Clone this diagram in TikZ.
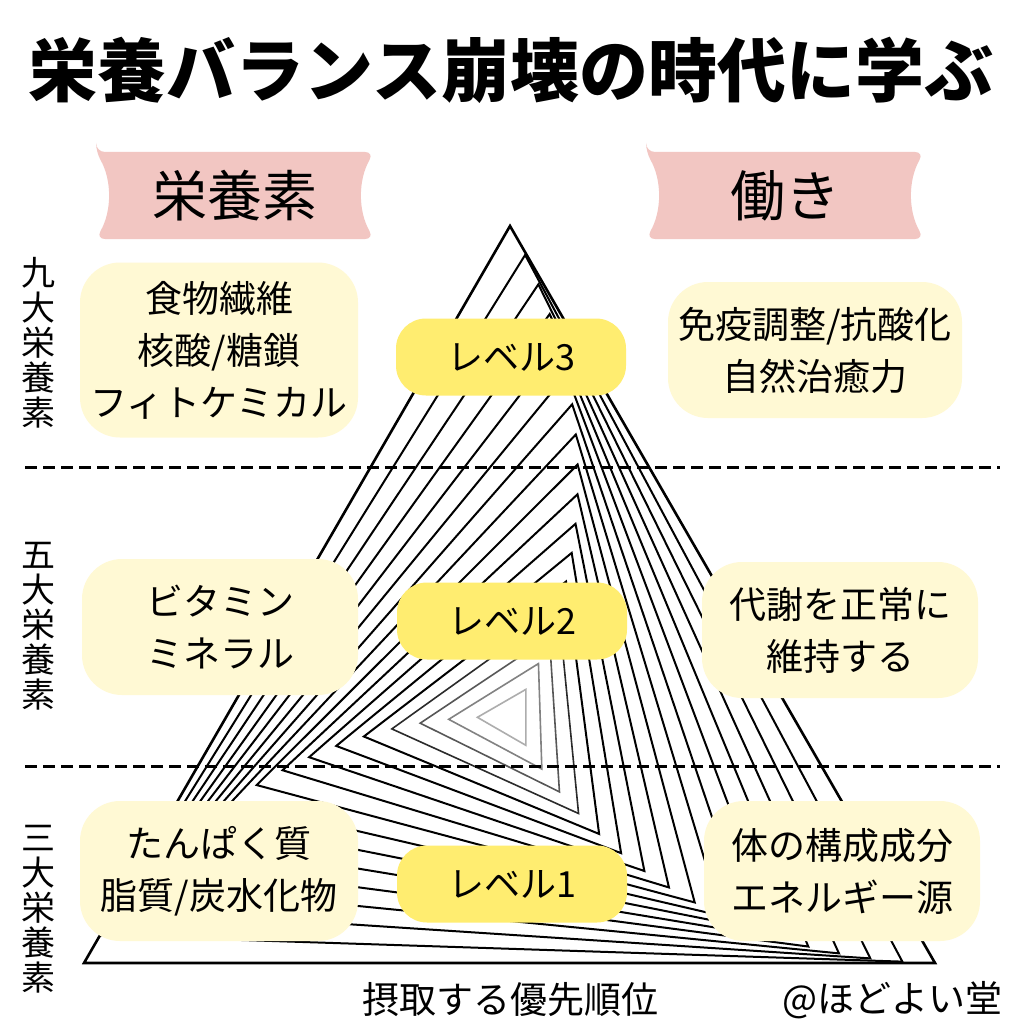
\documentclass[tikz,border=0pt]{standalone}
\usepackage{fontspec}
\setmainfont{Noto Sans CJK JP}
\usetikzlibrary{positioning}

\definecolor{ribbonpink}{RGB}{242,198,194}
\definecolor{creamfill}{RGB}{255,249,212}
\definecolor{levelfill}{RGB}{255,237,112}

\tikzset{
  tri/.style={line join=miter},
  sepline/.style={line width=3pt, dash pattern=on 12pt off 6pt},
  cbox/.style={fill=creamfill, rounded corners=40pt, align=center,
    font=\fontsize{37}{52}\selectfont, inner sep=0pt},
  lvbox/.style={fill=levelfill, rounded corners=30pt, align=center,
    font=\fontsize{36}{40}\selectfont, minimum width=230pt, minimum height=77pt},
  ribbon/.style={fill=ribbonpink, rounded corners=9pt},
  tag/.style={font=\fontsize{55}{60}\selectfont},
  side/.style={align=center, font=\fontsize{34}{35}\selectfont, inner sep=0pt},
  foot/.style={font=\fontsize{37}{40}\selectfont}
}

% centre of the big triangle
\def\midx{509.67}\def\midy{717.33}

\begin{document}
\begin{tikzpicture}[x=1pt,y=-1pt]
  \useasboundingbox[fill=white] (0,0) rectangle (1024,1024);

  % title
  \node[font=\fontsize{69}{72}\selectfont\bfseries] (title) at (511,70) {栄養バランス崩壊の時代に学ぶ};

  % twisting triangles
  \foreach \k in {0,...,16}{
    \pgfmathsetmacro\s{1-0.0584*\k}
    \pgfmathsetmacro\r{1.875*\k}
    \pgfmathsetmacro\shade{\k<13 ? 100 : 100-17*(\k-12)}
    \pgfmathsetmacro\lw{\k==0 ? 2.6 : (\k<13 ? 2 : 1.6)}
    \coordinate (ta) at ({\midx+\s*(0.333*cos(\r)+491.333*sin(\r))}, {\midy+\s*(0.333*sin(\r)-491.333*cos(\r))});
    \coordinate (tb) at ({\midx+\s*(425.333*cos(\r)-245.667*sin(\r))}, {\midy+\s*(425.333*sin(\r)+245.667*cos(\r))});
    \coordinate (tc) at ({\midx+\s*(-425.667*cos(\r)-245.667*sin(\r))}, {\midy+\s*(-425.667*sin(\r)+245.667*cos(\r))});
    \draw[tri, line width=\lw pt, draw=black!\shade] (ta) -- (tb) -- (tc) -- cycle;
  }

  % level separators
  \coordinate (s1l) at (25,467);  \coordinate (s1r) at (1000,467);
  \coordinate (s2l) at (25,766);  \coordinate (s2r) at (1000,766);
  \draw[sepline] (s1l) -- (s1r);
  \draw[sepline] (s2l) -- (s2r);

  % headers
  \fill[ribbon] (96,152) -- (374,152) .. controls (358,180) and (358,211) .. (374,239)
    -- (96,239) .. controls (112,211) and (112,180) .. (96,152) -- cycle;
  \node[tag] (nutrient) at (235,196) {栄養素};
  \fill[ribbon] (646,152) -- (924,152) .. controls (908,180) and (908,211) .. (924,239)
    -- (646,239) .. controls (662,211) and (662,180) .. (646,152) -- cycle;
  \node[tag] (role) at (785,196) {働き};

  % side labels
  \node[side] (nine) at (38,343) {九\\大\\栄\\養\\素};
  \node[side] (five) at (38,626) {五\\大\\栄\\養\\素};
  \node[side] (three) at (38,909) {三\\大\\栄\\養\\素};

  % level 3
  \node[cbox, minimum width=278pt, minimum height=175pt] (fiber) at (219,350) {食物繊維\\核酸/糖鎖\\フィトケミカル};
  \node[lvbox] (lv3) at (511,357) {レベル3};
  \node[cbox, minimum width=294pt, minimum height=136pt] (immune) at (815,350) {免疫調整/抗酸化\\自然治癒力};

  % level 2
  \node[cbox, minimum width=276pt, minimum height=136pt] (vitamin) at (220,627) {ビタミン\\ミネラル};
  \node[lvbox] (lv2) at (512,621) {レベル2};
  \node[cbox, minimum width=276pt, minimum height=136pt] (metab) at (840,630) {代謝を正常に\\維持する};

  % level 1
  \node[cbox, minimum width=278pt, minimum height=140pt] (protein) at (219,871) {たんぱく質\\脂質/炭水化物};
  \node[lvbox] (lv1) at (512,884) {レベル1};
  \node[cbox, minimum width=276pt, minimum height=140pt] (body) at (842,871) {体の構成成分\\エネルギー源};

  % footer
  \node[foot] (priority) at (510,1000) {摂取する優先順位};
  \node[foot] (credit) at (892,1000) {@ほどよい堂};
\end{tikzpicture}
\end{document}
